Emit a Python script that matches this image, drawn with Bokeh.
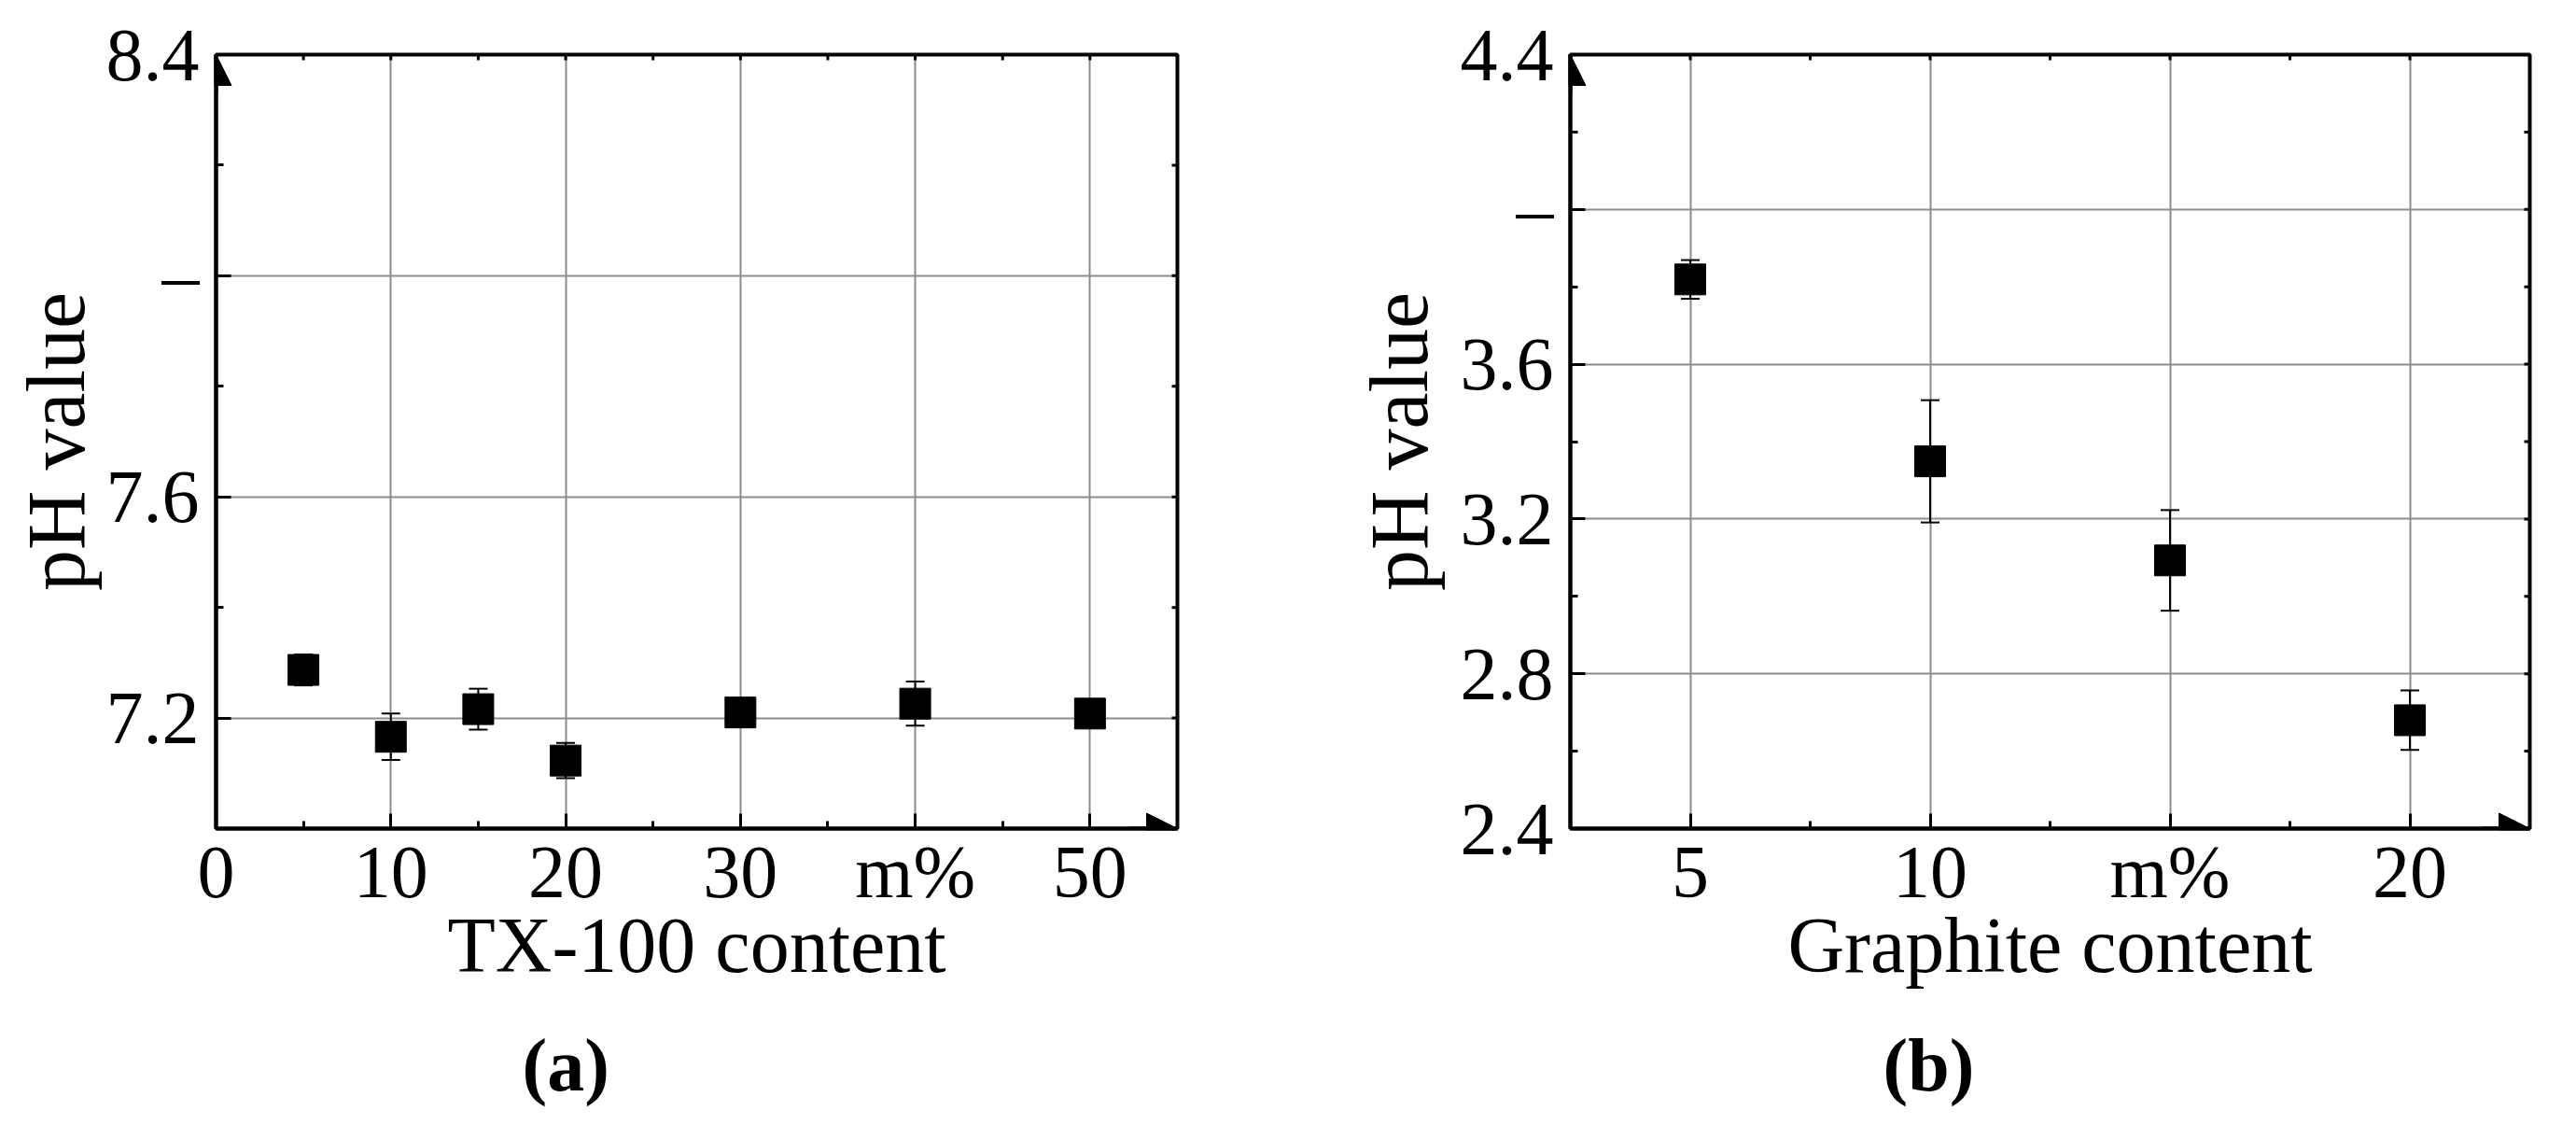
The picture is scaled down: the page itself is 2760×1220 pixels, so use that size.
from bokeh.plotting import figure
from bokeh.layouts import row
from bokeh.models import (Range1d, FixedTicker, ColumnDataSource, Whisker,
                          TeeHead, Arrow, NormalHead, Title)
from bokeh.embed import file_html
from bokeh.resources import INLINE

# ---------------- data ----------------
tx_content = [5, 10, 15, 20, 30, 40, 50]
tx_ph = [7.287, 7.166, 7.216, 7.123, 7.210, 7.226, 7.208]
tx_err = [0.028, 0.042, 0.037, 0.032, 0.010, 0.040, 0.010]

gr_content = [5, 10, 15, 20]
gr_ph = [3.819, 3.349, 3.093, 2.680]
gr_err = [0.050, 0.158, 0.130, 0.077]

tx_xticks = [0, 10, 20, 30, 40, 50]
tx_xlabels = ["0", "10", "20", "30", "m%", "50"]
tx_xminor = [5, 15, 25, 35, 45]
tx_yticks = [7.2, 7.6, 8.0, 8.4]
tx_ylabels = ["7.2", "7.6", "\u2013", "8.4"]
tx_yminor = [7.4, 7.8, 8.2]

gr_xticks = [5, 10, 15, 20]
gr_xlabels = ["5", "10", "m%", "20"]
gr_xminor = [2.5, 7.5, 12.5, 17.5, 22.5]
gr_yticks = [2.4, 2.8, 3.2, 3.6, 4.0, 4.4]
gr_ylabels = ["2.4", "2.8", "3.2", "3.6", "\u2013", "4.4"]
gr_yminor = [2.6, 3.0, 3.4, 3.8, 4.2]

FONT = "Liberation Serif"
TICK_FS = "80px"
XTITLE_FS = "84px"
YTITLE_FS = "88px"
GRID = "#8c8c8c"
FRAME_W, FRAME_H = 1030, 829


def style_axis(ax, ticks, minor, labels, standoff):
    ax.ticker = FixedTicker(ticks=ticks, minor_ticks=minor)
    ax.axis_line_width = 4
    ax.axis_line_color = "black"
    ax.major_tick_in = 16
    ax.major_tick_out = 0
    ax.minor_tick_in = 8
    ax.minor_tick_out = 0
    ax.major_tick_line_width = 3
    ax.minor_tick_line_width = 3
    ax.major_tick_line_color = "black"
    ax.minor_tick_line_color = "black"
    ax.major_label_text_font = FONT
    ax.major_label_text_font_size = TICK_FS
    ax.major_label_text_color = "black"
    ax.major_label_standoff = standoff
    ax.major_label_overrides = {float(t): l for t, l in zip(ticks, labels)}
    ax.axis_label_text_font = FONT
    ax.axis_label_text_font_style = "normal"
    ax.axis_label_text_color = "black"


def make_panel(xr, yr, xs, ys, errs, xticks, xlabels, xminor, yticks, ylabels, yminor,
               xtitle, letter, min_left, min_right, ytitle_standoff, letter_offset):
    p = figure(frame_width=FRAME_W, frame_height=FRAME_H,
               min_border_left=min_left, min_border_right=min_right,
               min_border_top=58, min_border_bottom=316,
               x_range=Range1d(*xr), y_range=Range1d(*yr),
               output_backend="svg", toolbar_location=None,
               background_fill_color="white", border_fill_color="white")
    p.outline_line_color = "black"
    p.outline_line_width = 4

    xa, ya = p.xaxis[0], p.yaxis[0]
    style_axis(xa, xticks, xminor, xlabels, 2)
    style_axis(ya, yticks, yminor, ylabels, 18)
    xa.axis_label = xtitle
    xa.axis_label_text_font_size = XTITLE_FS
    xa.axis_label_standoff = -15
    ya.axis_label = "pH value"
    ya.axis_label_text_font_size = YTITLE_FS
    ya.axis_label_standoff = ytitle_standoff

    p.xgrid.ticker = FixedTicker(ticks=xticks)
    p.ygrid.ticker = FixedTicker(ticks=yticks)
    for g in (p.xgrid[0], p.ygrid[0]):
        g.grid_line_color = GRID
        g.grid_line_width = 2

    # small inward ticks on the top and right border
    dy = 6 * (yr[1] - yr[0]) / FRAME_H
    dx = 6 * (xr[1] - xr[0]) / FRAME_W
    tx = sorted(xticks + xminor)
    ty = sorted(yticks + yminor)
    p.segment(x0=tx, y0=[yr[1]] * len(tx), x1=tx, y1=[yr[1] - dy] * len(tx),
              line_color="black", line_width=3)
    p.segment(x0=[xr[1]] * len(ty), y0=ty, x1=[xr[1] - dx] * len(ty), y1=ty,
              line_color="black", line_width=3)

    src = ColumnDataSource(dict(x=xs, y=ys,
                                upper=[y + e for y, e in zip(ys, errs)],
                                lower=[y - e for y, e in zip(ys, errs)]))
    p.add_layout(Whisker(source=src, base="x", upper="upper", lower="lower",
                         line_color="black", line_width=2,
                         upper_head=TeeHead(size=20, line_width=2, line_color="black"),
                         lower_head=TeeHead(size=20, line_width=2, line_color="black")))
    p.scatter("x", "y", source=src, marker="square", size=33,
              fill_color="black", line_color="black")

    # axis arrows
    p.add_layout(Arrow(x_start=xr[0], y_start=yr[1] - (yr[1] - yr[0]) * 0.05,
                       x_end=xr[0], y_end=yr[1], line_width=4, line_color="black",
                       end=NormalHead(size=33, fill_color="black", line_color="black")))
    p.add_layout(Arrow(x_start=xr[1] - (xr[1] - xr[0]) * 0.05, y_start=yr[0],
                       x_end=xr[1], y_end=yr[0], line_width=4, line_color="black",
                       end=NormalHead(size=33, fill_color="black", line_color="black")))

    # panel letter below the x axis
    p.add_layout(Title(text=letter, align="left", offset=letter_offset,
                       vertical_align="bottom", standoff=66,
                       text_font=FONT, text_font_size="80px", text_font_style="bold",
                       text_color="black"), "below")
    return p


p1 = make_panel((0, 55), (7.0, 8.4), tx_content, tx_ph, tx_err,
                tx_xticks, tx_xlabels, tx_xminor, tx_yticks, tx_ylabels, tx_yminor,
                "TX-100 content", "(a)", 231, 111, 2, 328)
p2 = make_panel((2.5, 22.5), (2.4, 4.4), gr_content, gr_ph, gr_err,
                gr_xticks, gr_xlabels, gr_xminor, gr_yticks, gr_ylabels, gr_yminor,
                "Graphite content", "(b)", 310, 38, 14, 335)
p2.frame_width = 1028

layout = row(p1, p2)
open("out.html", "w").write(file_html(layout, INLINE))
